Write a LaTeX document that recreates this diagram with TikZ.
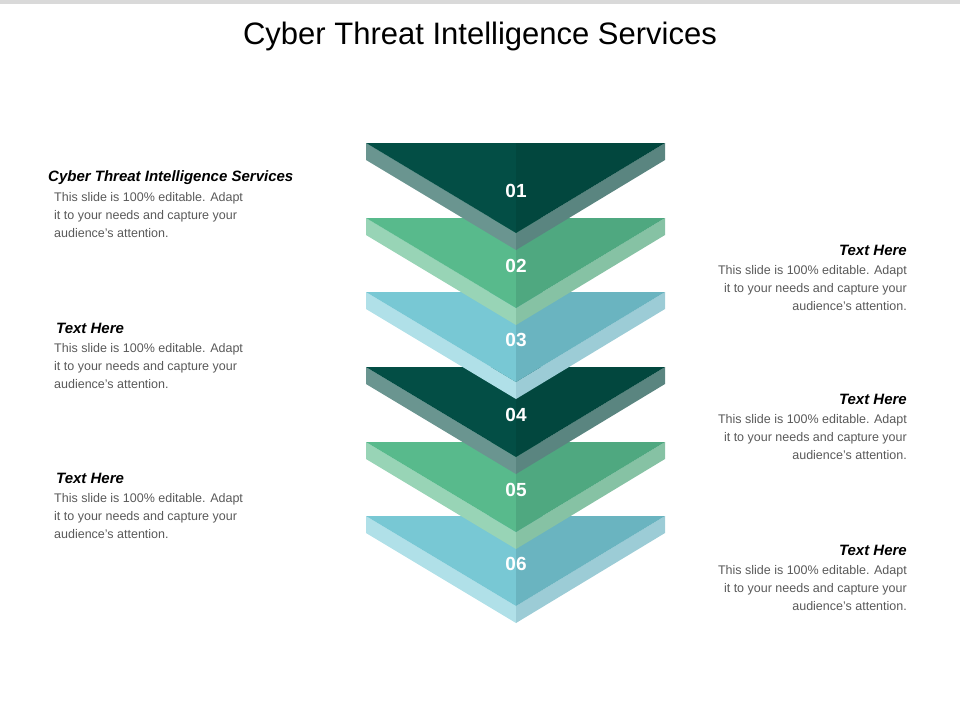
\documentclass[tikz,border=0pt]{standalone}
\usepackage{fontspec}
\setmainfont{Liberation Sans}
\definecolor{dA}{HTML}{034E45}\definecolor{dB}{HTML}{02473E}\definecolor{dC}{HTML}{6A9590}\definecolor{dD}{HTML}{5A8580}
\definecolor{gA}{HTML}{58BA8C}\definecolor{gB}{HTML}{4FA880}\definecolor{gC}{HTML}{98D4B6}\definecolor{gD}{HTML}{86C2A4}
\definecolor{bA}{HTML}{78C8D4}\definecolor{bB}{HTML}{6AB4C0}\definecolor{bC}{HTML}{B0E0E8}\definecolor{bD}{HTML}{9CCCD6}
\definecolor{bodyc}{HTML}{595959}
\tikzset{head/.style={font=\fontsize{15}{18}\selectfont\bfseries\itshape,inner sep=0},
 body/.style={font=\fontsize{12.5}{18}\selectfont,text=bodyc,inner sep=0},
 num/.style={font=\fontsize{19}{22}\selectfont\bfseries,text=white}}
\newcommand{\chev}[6]{% top y, name, A,B,C,D
 \fill[#5] (366,-#1) -- (516,-#1-90) -- (516,-#1-107) -- (366,-#1-17) -- cycle;
 \fill[#6] (665,-#1) -- (516,-#1-90) -- (516,-#1-107) -- (665,-#1-17) -- cycle;
 \fill[#3] (366,-#1) -- (516,-#1) -- (516,-#1-90) -- cycle;
 \fill[#4] (665,-#1) -- (516,-#1) -- (516,-#1-90) -- cycle;
 \node[num] (#2) at (516,-#1-48) {#2};}
\begin{document}
\begin{tikzpicture}[x=1pt,y=1pt]
\useasboundingbox (0,0) rectangle (960,-720);
\fill[gray!30] (0,0) rectangle (960,-4);
\node[font=\fontsize{31}{36}\selectfont] (title) at (480,-36) {Cyber Threat Intelligence Services};
\chev{516}{06}{bA}{bB}{bC}{bD}
\chev{442}{05}{gA}{gB}{gC}{gD}
\chev{367}{04}{dA}{dB}{dC}{dD}
\chev{292}{03}{bA}{bB}{bC}{bD}
\chev{218}{02}{gA}{gB}{gC}{gD}
\chev{143}{01}{dA}{dB}{dC}{dD}
% left
\node[head,anchor=west] (h1) at (48,-178) {Cyber Threat Intelligence Services};
\node[body,anchor=north west,align=left] (t1) at (54,-192) {This slide is 100\% editable. Adapt\\it to your needs and capture your\\audience's attention.};
\node[head,anchor=west] (h3) at (56,-328) {Text Here};
\node[body,anchor=north west,align=left] (t3) at (54,-343) {This slide is 100\% editable. Adapt\\it to your needs and capture your\\audience's attention.};
\node[head,anchor=west] (h5) at (56,-478) {Text Here};
\node[body,anchor=north west,align=left] (t5) at (54,-493) {This slide is 100\% editable. Adapt\\it to your needs and capture your\\audience's attention.};
% right
\node[head,anchor=east] (h2) at (907,-250) {Text Here};
\node[body,anchor=north east,align=right] (t2) at (907,-265) {This slide is 100\% editable. Adapt\\it to your needs and capture your\\audience's attention.};
\node[head,anchor=east] (h4) at (907,-399) {Text Here};
\node[body,anchor=north east,align=right] (t4) at (907,-414) {This slide is 100\% editable. Adapt\\it to your needs and capture your\\audience's attention.};
\node[head,anchor=east] (h6) at (907,-550) {Text Here};
\node[body,anchor=north east,align=right] (t6) at (907,-565) {This slide is 100\% editable. Adapt\\it to your needs and capture your\\audience's attention.};
\end{tikzpicture}
\end{document}
